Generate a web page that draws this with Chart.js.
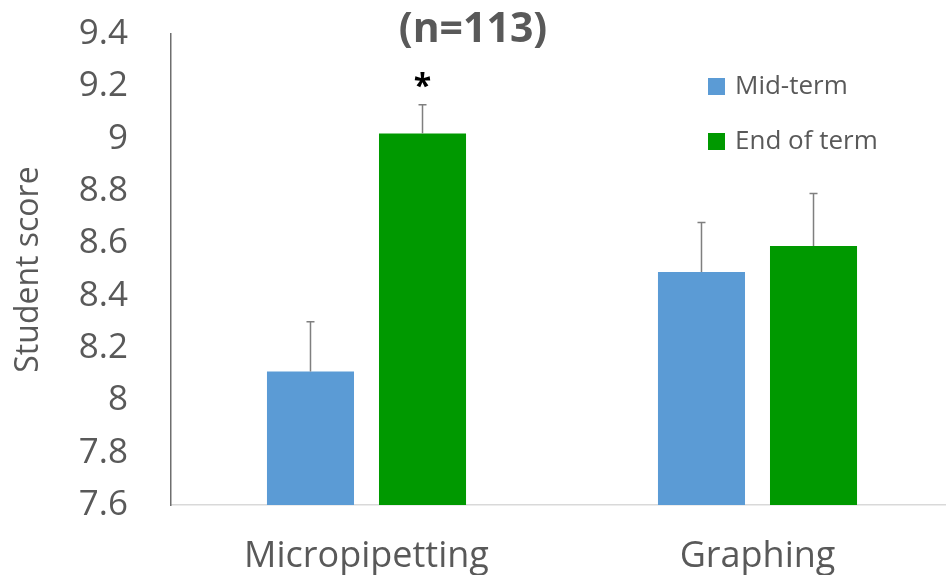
<!DOCTYPE html>
<html>
<head>
<meta charset="utf-8">
<script src="https://cdn.jsdelivr.net/npm/chart.js@4.4.1/dist/chart.umd.min.js"></script>
<style>
  html, body { margin: 0; padding: 0; background: #ffffff; overflow: hidden; }
  #wrap { width: 960px; height: 575px; position: relative; }
</style>
</head>
<body>
<div id="wrap"><canvas id="c" width="960" height="575"></canvas></div>
<script>
// ---- data ----
const categories = ['Micropipetting', 'Graphing'];
const seriesNames = ['Mid-term', 'End of term'];
const midTerm = [8.11, 8.49];
const endOfTerm = [9.02, 8.59];
const midTermErr = [0.19, 0.19];
const endOfTermErr = [0.11, 0.20];
const endOfTermMarks = ['*', ''];
const midTermMarks = ['', ''];
const yTicks = [7.6, 7.8, 8, 8.2, 8.4, 8.6, 8.8, 9, 9.2, 9.4];
const titleText = '(n=113)';
const yTitle = 'Student score';

const GRAY = '#595959';
const FONT = "'Open Sans', 'Noto Sans', sans-serif";

const errorBarPlugin = {
  id: 'errorBars',
  afterDatasetsDraw(chart) {
    const ctx = chart.ctx;
    const y = chart.scales.y;
    chart.data.datasets.forEach((ds, di) => {
      const meta = chart.getDatasetMeta(di);
      meta.data.forEach((bar, i) => {
        const v = ds.data[i];
        const e = ds.errors[i];
        const yTop = y.getPixelForValue(v + e);
        const yBase = y.getPixelForValue(v);
        ctx.save();
        ctx.strokeStyle = '#7f7f7f';
        ctx.lineWidth = 1.5;
        ctx.beginPath();
        ctx.moveTo(bar.x, yBase);
        ctx.lineTo(bar.x, yTop);
        ctx.moveTo(bar.x - 4, yTop);
        ctx.lineTo(bar.x + 4, yTop);
        ctx.stroke();
        const mark = ds.marks[i];
        if (mark) {
          ctx.fillStyle = '#000000';
          ctx.font = "bold 32px " + FONT;
          ctx.textAlign = 'center';
          ctx.textBaseline = 'alphabetic';
          ctx.fillText(mark, bar.x, yTop - 8);
        }
        ctx.restore();
      });
    });
  }
};

const decorPlugin = {
  id: 'decor',
  afterDraw(chart) {
    const ctx = chart.ctx;
    ctx.save();
    // title
    ctx.fillStyle = GRAY;
    ctx.font = "bold 41px " + FONT;
    ctx.textAlign = 'center';
    ctx.textBaseline = 'middle';
    ctx.fillText(titleText, 473, 30);
    // legend
    const rows = [86, 141];
    ctx.font = "26px " + FONT;
    ctx.textAlign = 'left';
    chart.data.datasets.forEach((ds, i) => {
      ctx.fillStyle = ds.backgroundColor;
      ctx.fillRect(708, rows[i] - 8, 17, 17);
      ctx.fillStyle = GRAY;
      ctx.fillText(ds.label, 735, rows[i] + 1);
    });
    ctx.restore();
  }
};

new Chart(document.getElementById('c'), {
  type: 'bar',
  data: {
    labels: categories,
    datasets: [
      { label: seriesNames[0], data: midTerm, errors: midTermErr, marks: midTermMarks,
        backgroundColor: '#5B9BD5', borderWidth: 0 },
      { label: seriesNames[1], data: endOfTerm, errors: endOfTermErr, marks: endOfTermMarks,
        backgroundColor: '#009900', borderWidth: 0 }
    ]
  },
  options: {
    responsive: false,
    animation: false,
    layout: { padding: { top: 34, right: 7, left: 0, bottom: 0 } },
    datasets: { bar: { categoryPercentage: 0.573, barPercentage: 0.777 } },
    plugins: {
      legend: { display: false },
      title: { display: false },
      tooltip: { enabled: false }
    },
    scales: {
      x: {
        grid: { display: false, drawTicks: false },
        border: { display: true, color: '#d9d9d9', width: 1.5 },
        ticks: { color: GRAY, font: { family: FONT, size: 36 }, padding: 30 },
        afterFit(s) { s.height = 70; s.paddingLeft = 0; s.paddingRight = 0; }
      },
      y: {
        min: 7.6, max: 9.4,
        grid: { display: false, drawTicks: false },
        border: { display: true, color: '#6e6e6e', width: 1.5 },
        afterBuildTicks(s) { s.ticks = yTicks.map(v => ({ value: v })); },
        ticks: {
          color: GRAY, font: { family: FONT, size: 35 }, padding: 43,
          callback: v => String(+Number(v).toFixed(1))
        },
        title: { display: true, text: yTitle, color: GRAY,
                 font: { family: FONT, size: 32 }, padding: { top: 10, bottom: 0 } },
        afterFit(s) { s.width = 171; s.paddingTop = 0; s.paddingBottom = 0; }
      }
    }
  },
  plugins: [errorBarPlugin, decorPlugin]
});
</script>
</body>
</html>
